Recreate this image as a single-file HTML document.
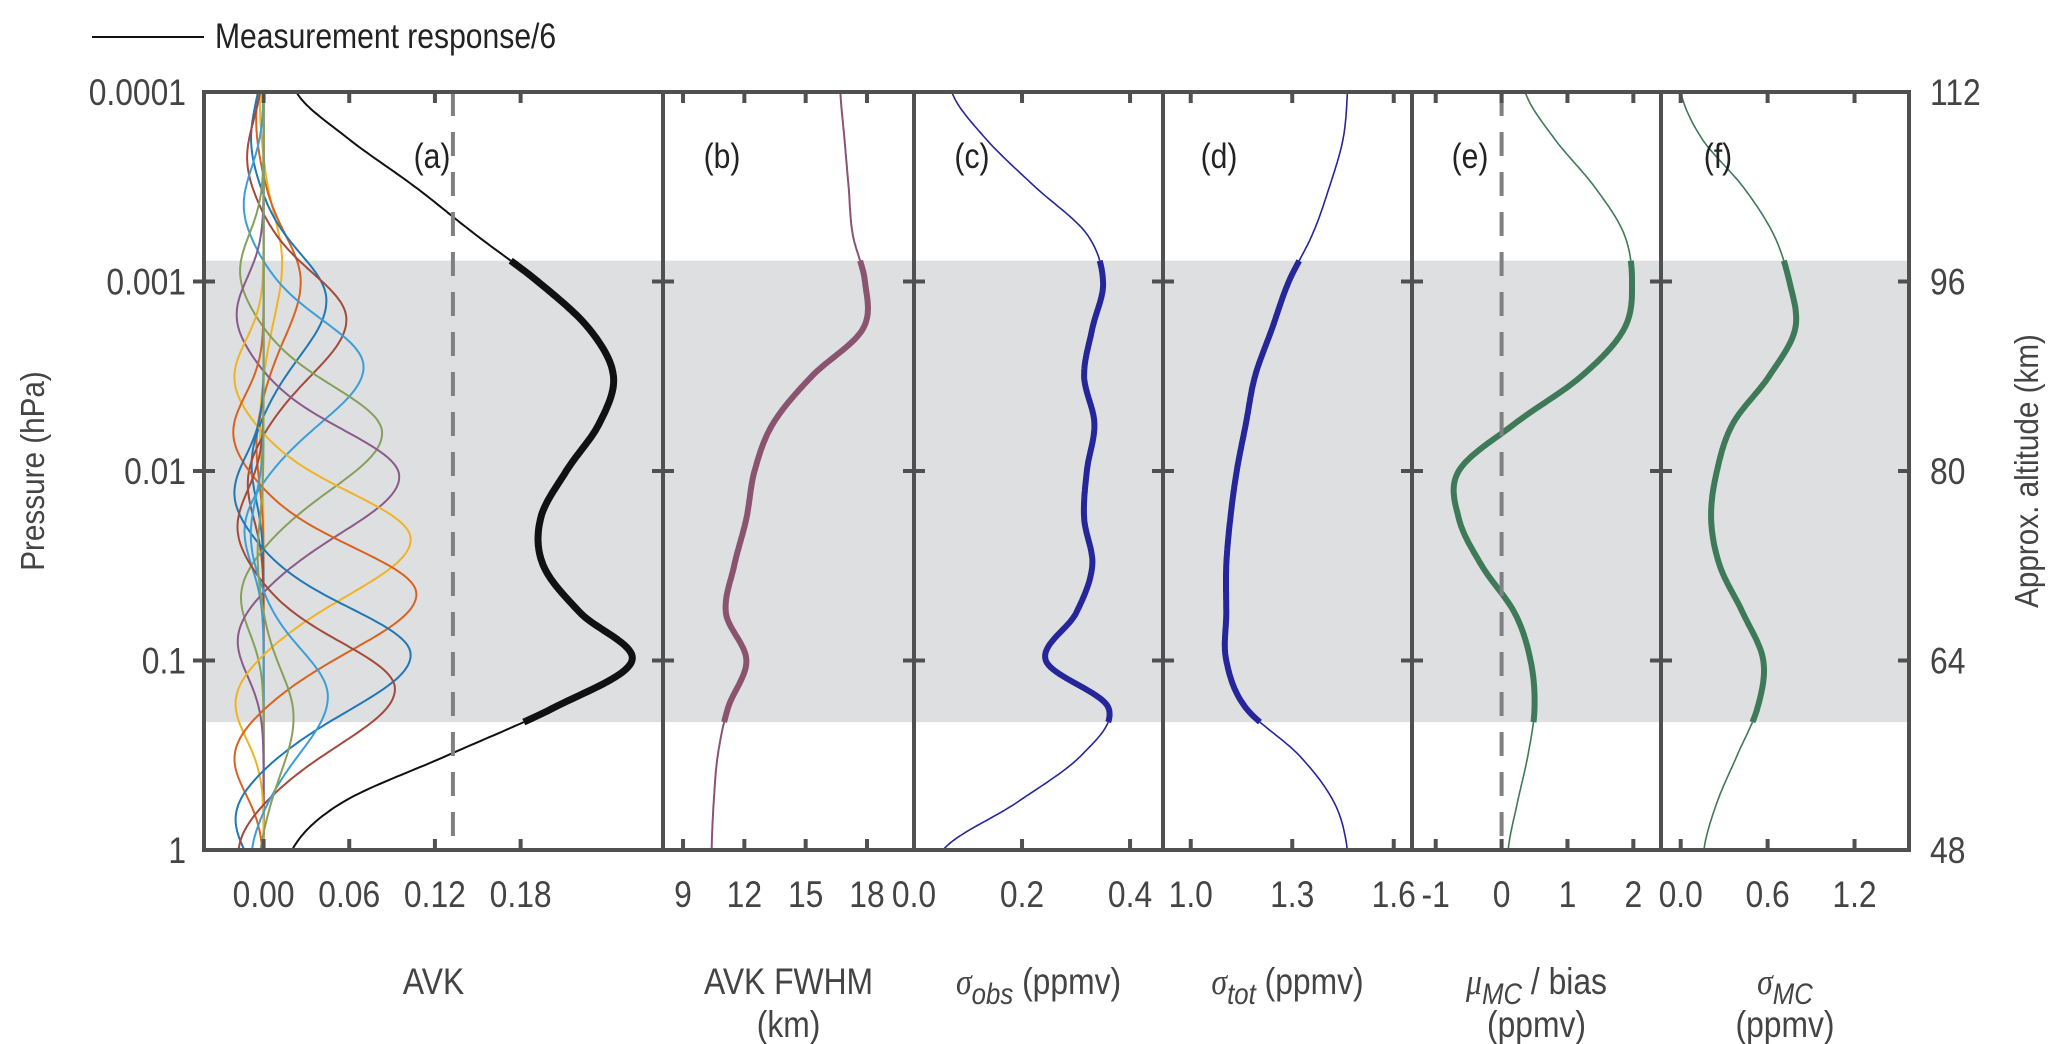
<!DOCTYPE html>
<html><head><meta charset="utf-8"><style>
html,body{margin:0;padding:0;background:#fff;}
svg{display:block;font-family:"Liberation Sans",sans-serif;}
</style></head><body>
<svg id="fig" width="2067" height="1044" viewBox="0 0 2067 1044" xmlns="http://www.w3.org/2000/svg">
<line x1="92" y1="37" x2="204" y2="37" stroke="#111" stroke-width="2"/>
<g id="plots"></g>
</svg>
<script>
// pressure grid (log10 hPa), uniform 0.25 steps
const logP = [-4,-3.75,-3.5,-3.25,-3,-2.75,-2.5,-2.25,-2,-1.75,-1.5,-1.25,-1,-0.75,-0.5,-0.25,0];
const measResp = [0.023,0.06,0.106,0.148,0.192,0.228,0.245,0.235,0.212,0.194,0.196,0.222,0.258,0.203,0.129,0.055,0.020];
const fwhm = [16.7,16.9,17.1,17.3,17.9,17.8,15.3,13.4,12.5,12.1,11.5,11.1,12.1,11.2,10.7,10.5,10.4];
const sigObs = [0.07,0.134,0.224,0.32,0.35,0.33,0.315,0.334,0.32,0.315,0.33,0.30,0.244,0.36,0.31,0.19,0.054];
const sigTot = [1.463,1.45,1.41,1.36,1.29,1.24,1.19,1.163,1.136,1.117,1.105,1.105,1.105,1.163,1.32,1.424,1.463];
const muMC = [0.36,0.81,1.41,1.86,1.98,1.86,1.21,0.2,-0.65,-0.65,-0.3,0.2,0.44,0.5,0.4,0.24,0.1];
const sigMC = [0.0,0.15,0.43,0.64,0.75,0.79,0.61,0.36,0.25,0.21,0.27,0.43,0.57,0.53,0.39,0.25,0.16];
// AVK rows: peak pressure (log10 hPa) and peak value
const avkCenters = [-3.1,-3.0,-2.9,-2.8,-2.55,-2.2,-1.97,-1.64,-1.35,-1.03,-0.85,-0.81,-0.7];
const avkPeaks = [0.013,0.026,0.044,0.058,0.07,0.083,0.095,0.103,0.107,0.103,0.092,0.045,0.021];
const avkColors = ['#f0b323','#d9621f','#1f77b4','#a34a3a','#3a9fd8','#86a05a','#8b5a8b','#f0b323','#d9621f','#1f77b4','#a34a3a','#3a9fd8','#86a05a'];
const yTicks = ['0.0001','0.001','0.01','0.1','1'];
const altTicks = ['112','96','80','64','48'];
const bandTop = -3.11, bandBot = -0.675;

const NS='http://www.w3.org/2000/svg';
const root=document.getElementById('plots');
const TOP=92, BOT=850, SX=0.86;
function yScale(l){return TOP+(l+4)/4*(BOT-TOP);}
function mk(tag,attrs,parent){const e=document.createElementNS(NS,tag);for(const k in attrs)e.setAttribute(k,attrs[k]);(parent||root).appendChild(e);return e;}
function txt(x,y,s,size,anchor,fill,parent){
 const t=mk('text',{x:(x/SX).toFixed(1),y:y,'font-size':size,'text-anchor':anchor||'start',fill:fill||'#444',transform:'scale('+SX+',1)'},parent);
 t.textContent=s;return t;}
const lg=txt(215,48,'Measurement response/6',35,'start','#222');


const yt=mk('text',{transform:'translate(44,471) rotate(-90) scale(0.9,1)','text-anchor':'middle','font-size':33,fill:'#444'});
yt.textContent='Pressure (hPa)';


const rt=mk('text',{transform:'translate(2038,471) rotate(-90) scale(0.9,1)','text-anchor':'middle','font-size':33,fill:'#444'});
rt.textContent='Approx. altitude (km)';



const panels=[
 {x0:204,x1:663,lo:-0.0417,hi:0.2797,ticks:[0,0.06,0.12,0.18],lab:['0.00','0.06','0.12','0.18'],title:['AVK'],letter:'(a)',lx:432,name:'avk'},
 {x0:663,x1:914,lo:8.02,hi:20.3,ticks:[9,12,15,18],lab:['9','12','15','18'],title:['AVK FWHM','(km)'],letter:'(b)',lx:722,name:'fwhm'},
 {x0:914,x1:1163,lo:0,hi:0.461,ticks:[0,0.2,0.4],lab:['0.0','0.2','0.4'],title:['σ|obs| (ppmv)'],letter:'(c)',lx:972,name:'sigma-obs'},
 {x0:1163,x1:1412,lo:0.918,hi:1.654,ticks:[1.0,1.3,1.6],lab:['1.0','1.3','1.6'],title:['σ|tot| (ppmv)'],letter:'(d)',lx:1219,name:'sigma-tot'},
 {x0:1412,x1:1661,lo:-1.36,hi:2.42,ticks:[-1,0,1,2],lab:['-1','0','1','2'],title:['μ|MC| / bias','(ppmv)'],letter:'(e)',lx:1470,name:'mu-mc'},
 {x0:1661,x1:1909,lo:-0.136,hi:1.576,ticks:[0,0.6,1.2],lab:['0.0','0.6','1.2'],title:['σ|MC|','(ppmv)'],letter:'(f)',lx:1718,name:'sigma-mc'}
];
panels.forEach(p=>{p.sx=v=>p.x0+(v-p.lo)/(p.hi-p.lo)*(p.x1-p.x0);});
const band=mk('rect',{x:204,y:yScale(bandTop),width:1705,height:yScale(bandBot)-yScale(bandTop),fill:'#dedfe1'});



function interp(arr,l){const h=0.25;let i=Math.floor((l+4)/h);if(i>=arr.length-1)i=arr.length-2;if(i<0)i=0;
 const t=(l-logP[i])/h;const a=arr[Math.max(i-1,0)],b=arr[i],c=arr[i+1],d=arr[Math.min(i+2,arr.length-1)];
 return b+0.5*t*(c-a+t*(2*a-5*b+4*c-d+t*(3*(b-c)+d-a)));}
function drawProfile(p,arr,color,wThin,wThick,name){
 const seg=(a,b,w,nm)=>{let d='';const n=Math.round((b-a)/0.01);for(let k=0;k<=n;k++){const l=a+(b-a)*k/n;const x=p.sx(interp(arr,l)),y=yScale(l);d+=(d?'L':'M')+x.toFixed(1)+','+y.toFixed(1);}
  const e=mk('path',{d:d,fill:'none',stroke:color,'stroke-width':w,'stroke-linejoin':'round'});
  
  };
 seg(-4,bandTop,wThin,name+'-upper');seg(bandTop,bandBot,wThick,name+'-retrieval');seg(bandBot,0,wThin,name+'-lower');
}
const pa=panels[0];
avkCenters.forEach((c,i)=>{
 const a=avkPeaks[i];let d='';
 for(let k=0;k<=400;k++){const l=-4+k*0.01;const dd=l-c;const w=dd>0?0.4:0.34;
  let v=a*Math.exp(-(dd/w)*(dd/w))-0.2*a*Math.exp(-Math.pow((Math.abs(dd)-0.85)/0.28,2));
  const x=pa.sx(v),y=yScale(l);d+=(d?'L':'M')+x.toFixed(1)+','+y.toFixed(1);}
 const e=mk('path',{d:d,fill:'none',stroke:avkColors[i],'stroke-width':2});
 
 
});
drawProfile(panels[0],measResp,'#111',2,7,'measurement-response');
drawProfile(panels[1],fwhm,'#8a5470',2,6,'avk-fwhm-line');
drawProfile(panels[2],sigObs,'#25269a',1.6,6,'sigma-obs-line');
drawProfile(panels[3],sigTot,'#25269a',1.6,6,'sigma-tot-line');
drawProfile(panels[4],muMC,'#3e7a58',1.6,6,'mu-mc-line');
drawProfile(panels[5],sigMC,'#3e7a58',1.6,6,'sigma-mc-line');
[[0,0.1326,'avk-reference-dashed'],[4,0,'zero-bias-dashed']].forEach(([pi,v,nm])=>{
 const x=panels[pi].sx(v);const e=mk('line',{x1:x,y1:TOP,x2:x,y2:BOT,stroke:'#808080','stroke-width':4,'stroke-dasharray':'24,16'});
 
 
});
panels.forEach((p,pi)=>{
 const g=mk('g',{});
 
 
 mk('rect',{x:p.x0,y:TOP,width:p.x1-p.x0,height:BOT-TOP,fill:'none',stroke:'#505050','stroke-width':4},g);
 p.ticks.forEach((t,ti)=>{const x=p.sx(t);
  mk('line',{x1:x,y1:BOT,x2:x,y2:BOT-11,stroke:'#505050','stroke-width':4},g);
  mk('line',{x1:x,y1:TOP,x2:x,y2:TOP+11,stroke:'#505050','stroke-width':4},g);
  const tl=txt(x,907,p.lab[ti],37,'middle','#444',g);
  
  
 });
 [1,2,3].forEach(k=>{const y=yScale(-4+k);
  mk('line',{x1:p.x0,y1:y,x2:p.x0+11,y2:y,stroke:'#505050','stroke-width':4},g);
  mk('line',{x1:p.x1,y1:y,x2:p.x1-11,y2:y,stroke:'#505050','stroke-width':4},g);
  if(pi===0)mk('line',{x1:p.x0,y1:y,x2:p.x0-11,y2:y,stroke:'#505050','stroke-width':4},g);
 });
 const lt=txt(p.lx,168,p.letter,35,'middle','#222',g);
 
 
 const cx=(p.x0+p.x1)/2;
 p.title.forEach((s,li)=>{
  const parts=s.split('|');
  let t;
  const yy=994+li*43;
  if(parts.length===1){t=txt(cx,yy,s,37,'middle','#444',g);}else{
   t=mk('text',{x:(cx/SX).toFixed(1),y:yy,'text-anchor':'middle','font-size':37,fill:'#444',transform:'scale('+SX+',1)'},g);
   const a=document.createElementNS(NS,'tspan');a.textContent=parts[0];a.setAttribute('font-style','italic');a.setAttribute('font-family','"Liberation Serif",serif');t.appendChild(a);
   const b=document.createElementNS(NS,'tspan');b.textContent=parts[1];b.setAttribute('font-style','italic');b.setAttribute('font-size','30');b.setAttribute('dy','10');t.appendChild(b);
   const c=document.createElementNS(NS,'tspan');c.textContent=parts[2];c.setAttribute('dy','-10');t.appendChild(c);}
  
  
 });
});
yTicks.forEach((s,i)=>{const t=txt(186,yScale(-4+i)+13,s,37,'end','#444');
 
 });
altTicks.forEach((s,i)=>{const t=txt(1930,yScale(-4+i)+13,s,37,'start','#444');
 
 });
</script>
</body></html>
